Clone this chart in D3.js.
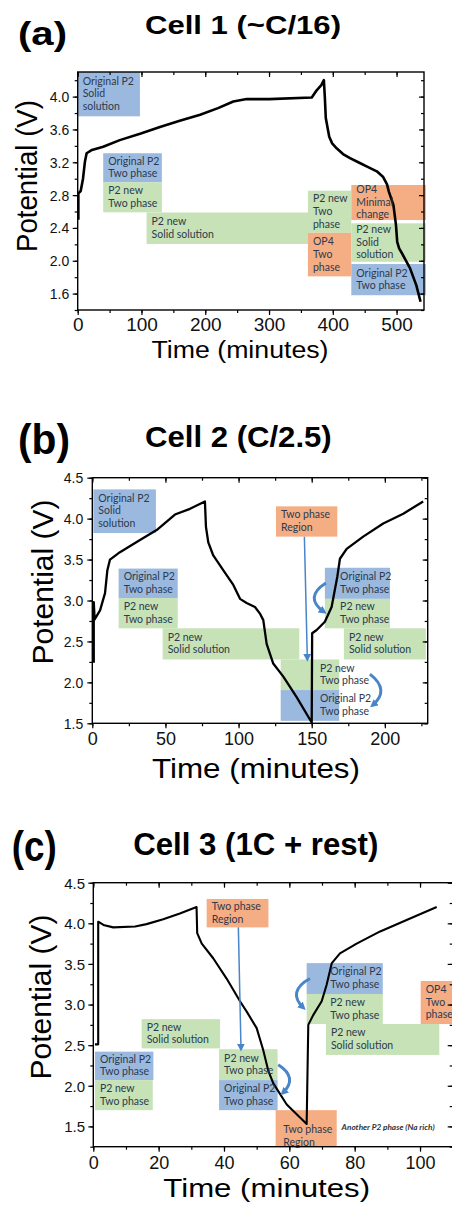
<!DOCTYPE html>
<html>
<head>
<meta charset="utf-8">
<script src="https://cdn.jsdelivr.net/npm/d3@7"></script>
<style>
  body { margin: 0; background: #fff; }
</style>
</head>
<body>
<svg id="fig"></svg>
<script>
var width = 452, height = 1205;

// ---- (a) Cell 1 (~C/16) ----
var cell1Time = [1, 1, 4.7, 8.3, 11.4, 14, 22.4, 40, 66, 99, 129, 160, 192, 220, 244, 265, 300, 367, 375, 382, 386, 387.6, 389, 394.4, 399, 406, 416, 427, 440, 453, 469, 479, 485, 488, 495, 499, 501, 504, 510, 521, 531, 537.6];
var cell1Volt = [2.5, 2.82, 2.85, 3.0, 3.21, 3.31, 3.35, 3.39, 3.47, 3.55, 3.63, 3.705, 3.78, 3.86, 3.94, 3.97, 3.97, 3.99, 4.08, 4.14, 4.2, 3.98, 3.74, 3.51, 3.43, 3.37, 3.30, 3.25, 3.20, 3.15, 3.09, 3.02, 2.93, 2.84, 2.68, 2.44, 2.23, 2.15, 2.07, 1.91, 1.70, 1.50];
var cell1XTicks = [0, 100, 200, 300, 400, 500];
var cell1YTicks = [1.6, 2.0, 2.4, 2.8, 3.2, 3.6, 4.0];
// [start, end, top V, bottom V, phase, lines, label time, label V]
var cell1Boxes = [
  [0, 97.6, 4.3, 3.76, "original", ["Original P2", "Solid", "solution"]],
  [40, 132, 3.31, 2.956, "original", ["Original P2", "Two phase"]],
  [40, 132, 2.956, 2.59, "new", ["P2 new", "Two phase"]],
  [108, 361, 2.588, 2.204, "new", ["P2 new", "Solid solution"]],
  [361, 429, 2.854, 2.34, "new", ["P2 new", "Two", "phase"]],
  [361, 429, 2.34, 1.81, "op4", ["OP4", "Two", "phase"]],
  [429, 546, 2.923, 2.496, "op4", ["OP4", "Minimal", "change"]],
  [429, 546, 2.456, 1.988, "new", ["P2 new", "Solid", "solution"]],
  [429, 546, 1.96, 1.58, "original", ["Original P2", "Two phase"]]
];

// ---- (b) Cell 2 (C/2.5) ----
var cell2Time = [1.0, 1.0, 1.6, 5.3, 8.7, 10.3, 12.1, 18.9, 32.6, 44, 56.5, 66.8, 77, 77.7, 79.3, 82.7, 89.5, 96.4, 101, 105.5, 111.2, 114.6, 116.9, 119.2, 123.7, 130.6, 139.7, 150, 150.3, 153.4, 159, 163.6, 167.5, 169.3, 173.9, 185.2, 198.9, 212.6, 226.2];
var cell2Volt = [2.24, 2.98, 2.77, 2.88, 3.09, 3.37, 3.5, 3.59, 3.74, 3.86, 4.05, 4.12, 4.21, 3.90, 3.71, 3.55, 3.37, 3.19, 3.02, 2.97, 2.92, 2.84, 2.76, 2.47, 2.23, 2.07, 1.82, 1.51, 2.60, 2.64, 2.74, 2.92, 3.29, 3.51, 3.63, 3.78, 3.94, 4.06, 4.21];
var cell2XTicks = [0, 50, 100, 150, 200];
var cell2YTicks = [1.5, 2.0, 2.5, 3.0, 3.5, 4.0, 4.5];
var cell2Boxes = [
  [0.7, 43.5, 4.357, 3.824, "original", ["Original P2", "Solid", "solution"]],
  [18, 58.4, 3.39, 3.03, "original", ["Original P2", "Two phase"]],
  [18, 58.4, 3.03, 2.66, "new", ["P2 new", "Two phase"]],
  [48.1, 141.5, 2.66, 2.28, "new", ["P2 new", "Solid solution"]],
  [128.8, 168.8, 2.28, 1.906, "new", ["P2 new", "Two phase"], 152.2],
  [128.8, 168.8, 1.906, 1.53, "original", ["Original P2", "Two phase"], 152.2],
  [125.6, 167.5, 4.15, 3.78, "op4", ["Two phase", "Region"]],
  [159, 203.5, 3.40, 3.02, "original", ["Original P2", "Two phase"], 166],
  [159, 203.5, 3.02, 2.66, "new", ["P2 new", "Two phase"], 166],
  [172, 228, 2.66, 2.28, "new", ["P2 new", "Solid solution"]]
];
var cell2Arrows = [[145, 3.78, 147, 2.29]];
var cell2Bends = [
  [159.7, 3.215, 144.4, 3.04, 158.4, 2.86],
  [189.8, 2.10, 203.8, 1.906, 191.6, 1.72]
];

// ---- (c) Cell 3 (1C + rest) ----
var cell3Time = [0.5, 1.5, 1.5, 3.1, 6.1, 12.8, 16.3, 21.4, 26.5, 31.6, 31.8, 33.2, 36.7, 40.8, 44.9, 47, 50, 52, 53.6, 55.1, 59.2, 65.3, 65.8, 67.3, 69.9, 71.4, 73, 75.5, 80.6, 87.8, 95.9, 105.1];
var cell3Volt = [2.51, 2.51, 4.02, 3.98, 3.95, 3.96, 3.99, 4.05, 4.12, 4.2, 3.88, 3.75, 3.57, 3.32, 3.04, 2.91, 2.71, 2.44, 2.18, 2.03, 1.77, 1.53, 2.75, 2.87, 3.04, 3.24, 3.51, 3.63, 3.75, 3.90, 4.04, 4.2];
var cell3XTicks = [0, 20, 40, 60, 80, 100];
var cell3YTicks = [1.5, 2.0, 2.5, 3.0, 3.5, 4.0, 4.5];
var cell3Boxes = [
  [34.7, 53.6, 4.30, 3.95, "op4", ["Two phase", "Region"]],
  [14.8, 38.8, 2.82, 2.46, "new", ["P2 new", "Solid solution"]],
  [0.5, 18.4, 2.42, 2.07, "original", ["Original P2", "Two phase"]],
  [0.5, 18.2, 2.07, 1.70, "new", ["P2 new", "Two phase"]],
  [38.5, 56.4, 2.45, 2.07, "new", ["P2 new", "Two phase"]],
  [38.5, 56.4, 2.07, 1.70, "original", ["Original P2", "Two phase"]],
  [55.8, 74.5, 1.70, 1.25, "op4", ["Two phase", "Region"], 56.6, 1.42],
  [65.3, 88.6, 3.51, 3.13, "original", ["Original P2", "Two phase"], 71],
  [65.3, 88.6, 3.13, 2.76, "new", ["P2 new", "Two phase"], 71],
  [71.2, 105.9, 2.76, 2.38, "new", ["P2 new", "Solid solution"]],
  [100.2, 112, 3.29, 2.76, "op4", ["OP4", "Two", "phase"]]
];
var cell3Arrows = [[44.4, 3.95, 45.2, 2.46]];
var cell3Bends = [
  [66.3, 3.32, 59.2, 3.16, 64.3, 2.96],
  [56.6, 2.26, 62.8, 2.10, 58.0, 1.91]
];
var cell3Notes = [[76.0, 1.46, "Another P2 phase (Na rich)"]];

var phaseColor = { original: "#9bb9de", "new": "#c6e2b6", op4: "#f5ad84" };
var arrowColor = "#4a85c8";

var svg = d3.select("#fig")
    .attr("width", width)
    .attr("height", height)
    .style("font-family", "'Liberation Sans', Arial, sans-serif");

var defs = svg.append("defs");
defs.append("marker")
    .attr("id", "head")
    .attr("viewBox", "0 0 10 10")
    .attr("refX", 6).attr("refY", 5)
    .attr("markerUnits", "userSpaceOnUse")
    .attr("markerWidth", 8).attr("markerHeight", 8)
    .attr("orient", "auto")
  .append("path")
    .attr("d", "M0,0L10,5L0,10z")
    .attr("fill", arrowColor);

var panels = [
  {
    tag: "(a)", title: "Cell 1 (~C/16)",
    time: cell1Time, volt: cell1Volt, boxes: cell1Boxes, xTicks: cell1XTicks, yTicks: cell1YTicks,
    arrows: [], bends: [], notes: [],
    left: 77.7, right: 424, top: 72, bottom: 310,
    xDomain: [0, 543], yDomain: [1.4, 4.3], xMinor: 50, yMinor: 0.2,
    lineW: 2.6, yFont: 14, xFont: 19, xLabOff: 20.7, yLabOff: 8.5,
    tagPos: [18, 45, 34, 49], titlePos: [145, 34, 26.5, 196],
    yTitle: [37, 176, 30, 152], xTitle: [240, 358.3, 23, 177]
  },
  {
    tag: "(b)", title: "Cell 2 (C/2.5)",
    time: cell2Time, volt: cell2Volt, boxes: cell2Boxes, xTicks: cell2XTicks, yTicks: cell2YTicks,
    arrows: cell2Arrows, bends: cell2Bends, notes: [],
    left: 92.3, right: 427.7, top: 477.7, bottom: 723.3,
    xDomain: [0, 229.3], yDomain: [1.5, 4.5], xMinor: 25, yMinor: 0.25,
    lineW: 2.3, yFont: 14, xFont: 18, xLabOff: 21.7, yLabOff: 9,
    tagPos: [18, 454, 42, 52], titlePos: [145, 446.7, 30, 186.7],
    yTitle: [53, 582, 30, 165], xTitle: [256, 778, 28, 208]
  },
  {
    tag: "(c)", title: "Cell 3 (1C + rest)",
    time: cell3Time, volt: cell3Volt, boxes: cell3Boxes, xTicks: cell3XTicks, yTicks: cell3YTicks,
    arrows: cell3Arrows, bends: cell3Bends, notes: cell3Notes,
    left: 93.3, right: 452.7, top: 882.7, bottom: 1146.7,
    xDomain: [0, 110], yDomain: [1.25, 4.5], xMinor: 10, yMinor: 0.25,
    lineW: 2.1, yFont: 15, xFont: 18, xLabOff: 22.6, yLabOff: 8.3,
    tagPos: [11.7, 861, 42, 45], titlePos: [133.3, 855, 32, 245],
    yTitle: [51, 997, 30, 165], xTitle: [266.7, 1196.7, 25, 206.7]
  }
];

panels.forEach(drawPanel);

function drawPanel(p) {
  var x = d3.scaleLinear().domain(p.xDomain).range([p.left, p.right]);
  var y = d3.scaleLinear().domain(p.yDomain).range([p.bottom, p.top]);
  var g = svg.append("g");

  // phase boxes
  g.append("g").selectAll("rect")
    .data(p.boxes)
    .join("rect")
      .attr("x", d => x(d[0]))
      .attr("y", d => y(d[2]))
      .attr("width", d => x(d[1]) - x(d[0]))
      .attr("height", d => y(d[3]) - y(d[2]))
      .attr("fill", d => phaseColor[d[4]]);

  // potential curve
  var line = d3.line()
      .x(d => x(d[0]))
      .y(d => y(d[1]));
  g.append("path")
      .datum(d3.zip(p.time, p.volt))
      .attr("d", line)
      .attr("fill", "none")
      .attr("stroke", "#000")
      .attr("stroke-width", p.lineW)
      .attr("stroke-linejoin", "round");

  // box labels
  var lh = 12.7;
  g.append("g").selectAll("text")
    .data(p.boxes)
    .join("text")
      .attr("font-family", "Lato, 'Open Sans', sans-serif")
      .attr("font-size", 10.5)
      .attr("fill", "#2d3a4d")
      .each(function(d) {
        var x0 = x(d[6] != null ? d[6] : d[0]) + 5;
        var h = y(d[3]) - y(d[2]);
        var y0 = d[7] != null ? y(d[7]) : y(d[2]) + (h - d[5].length * lh) / 2 + 9.6;
        d3.select(this).selectAll("tspan")
          .data(d[5])
          .join("tspan")
            .attr("x", x0)
            .attr("y", (s, i) => y0 + i * lh)
            .text(s => s);
      });

  g.selectAll("text.note")
    .data(p.notes)
    .join("text")
      .attr("class", "note")
      .attr("x", d => x(d[0]))
      .attr("y", d => y(d[1]))
      .attr("font-family", "Lato, sans-serif")
      .attr("font-size", 7.6)
      .attr("font-weight", "bold")
      .attr("font-style", "italic")
      .attr("fill", "#333")
      .attr("textLength", 93)
      .attr("lengthAdjust", "spacingAndGlyphs")
      .text(d => d[2]);

  // arrows
  g.selectAll("line.arrow")
    .data(p.arrows)
    .join("line")
      .attr("class", "arrow")
      .attr("x1", d => x(d[0])).attr("y1", d => y(d[1]))
      .attr("x2", d => x(d[2])).attr("y2", d => y(d[3]))
      .attr("stroke", arrowColor)
      .attr("stroke-width", 1.5)
      .attr("marker-end", "url(#head)");

  g.selectAll("path.bend")
    .data(p.bends)
    .join("path")
      .attr("class", "bend")
      .attr("d", d => {
        var path = d3.path();
        path.moveTo(x(d[0]), y(d[1]));
        path.quadraticCurveTo(x(d[2]), y(d[3]), x(d[4]), y(d[5]));
        return path.toString();
      })
      .attr("fill", "none")
      .attr("stroke", arrowColor)
      .attr("stroke-width", 3)
      .attr("marker-end", "url(#head)");

  // axes
  var fmtY = d3.format(".1f");
  var xMinor = d3.range(p.xDomain[0], p.xDomain[1] + 1e-9, p.xMinor);
  var yMinor = d3.range(p.yDomain[0], p.yDomain[1] + 1e-9, p.yMinor);

  function styleAxis(a) {
    a.select(".domain").remove();
    a.selectAll("line").attr("stroke", "#000").attr("stroke-width", 1.2);
  }

  g.append("g").attr("transform", `translate(0,${p.bottom})`)
      .call(d3.axisBottom(x).tickValues(xMinor).tickSize(3).tickFormat(""))
      .call(styleAxis);
  g.append("g").attr("transform", `translate(0,${p.top})`)
      .call(d3.axisTop(x).tickValues(xMinor).tickSize(-3).tickFormat(""))
      .call(styleAxis);
  g.append("g").attr("transform", `translate(${p.left},0)`)
      .call(d3.axisLeft(y).tickValues(yMinor).tickSize(3).tickFormat(""))
      .call(styleAxis);
  g.append("g").attr("transform", `translate(${p.right},0)`)
      .call(d3.axisRight(y).tickValues(yMinor).tickSize(-3).tickFormat(""))
      .call(styleAxis);

  g.append("g").attr("transform", `translate(0,${p.bottom})`)
      .call(d3.axisBottom(x).tickValues(p.xTicks).tickSize(5).tickFormat(d3.format("d")))
      .call(styleAxis)
      .call(a => a.selectAll("text")
          .attr("y", p.xLabOff).attr("dy", 0)
          .attr("font-size", p.xFont)
          .attr("font-family", "'Liberation Sans', Arial, sans-serif")
          .attr("fill", "#111"));
  g.append("g").attr("transform", `translate(0,${p.top})`)
      .call(d3.axisTop(x).tickValues(p.xTicks).tickSize(-5).tickFormat(""))
      .call(styleAxis);
  g.append("g").attr("transform", `translate(${p.left},0)`)
      .call(d3.axisLeft(y).tickValues(p.yTicks).tickSize(5).tickFormat(fmtY))
      .call(styleAxis)
      .call(a => a.selectAll("text")
          .attr("x", -p.yLabOff).attr("dy", "0.36em")
          .attr("font-size", p.yFont)
          .attr("font-family", "'Liberation Sans', Arial, sans-serif")
          .attr("fill", "#111"));
  g.append("g").attr("transform", `translate(${p.right},0)`)
      .call(d3.axisRight(y).tickValues(p.yTicks).tickSize(-5).tickFormat(""))
      .call(styleAxis);

  g.append("rect")
      .attr("x", p.left).attr("y", p.top)
      .attr("width", p.right - p.left).attr("height", p.bottom - p.top)
      .attr("fill", "none")
      .attr("stroke", "#000")
      .attr("stroke-width", 1.4);

  // titles
  g.append("text")
      .attr("x", p.tagPos[0]).attr("y", p.tagPos[1])
      .attr("font-size", p.tagPos[2]).attr("font-weight", "bold")
      .attr("textLength", p.tagPos[3]).attr("lengthAdjust", "spacingAndGlyphs")
      .text(p.tag);
  g.append("text")
      .attr("x", p.titlePos[0]).attr("y", p.titlePos[1])
      .attr("font-size", p.titlePos[2]).attr("font-weight", "bold")
      .attr("textLength", p.titlePos[3]).attr("lengthAdjust", "spacingAndGlyphs")
      .text(p.title);
  g.append("text")
      .attr("transform", `translate(${p.yTitle[0]},${p.yTitle[1]}) rotate(-90)`)
      .attr("text-anchor", "middle")
      .attr("font-size", p.yTitle[2])
      .attr("textLength", p.yTitle[3]).attr("lengthAdjust", "spacingAndGlyphs")
      .text("Potential (V)");
  g.append("text")
      .attr("x", p.xTitle[0]).attr("y", p.xTitle[1])
      .attr("text-anchor", "middle")
      .attr("font-size", p.xTitle[2])
      .attr("textLength", p.xTitle[3]).attr("lengthAdjust", "spacingAndGlyphs")
      .text("Time (minutes)");
}
</script>
</body>
</html>
